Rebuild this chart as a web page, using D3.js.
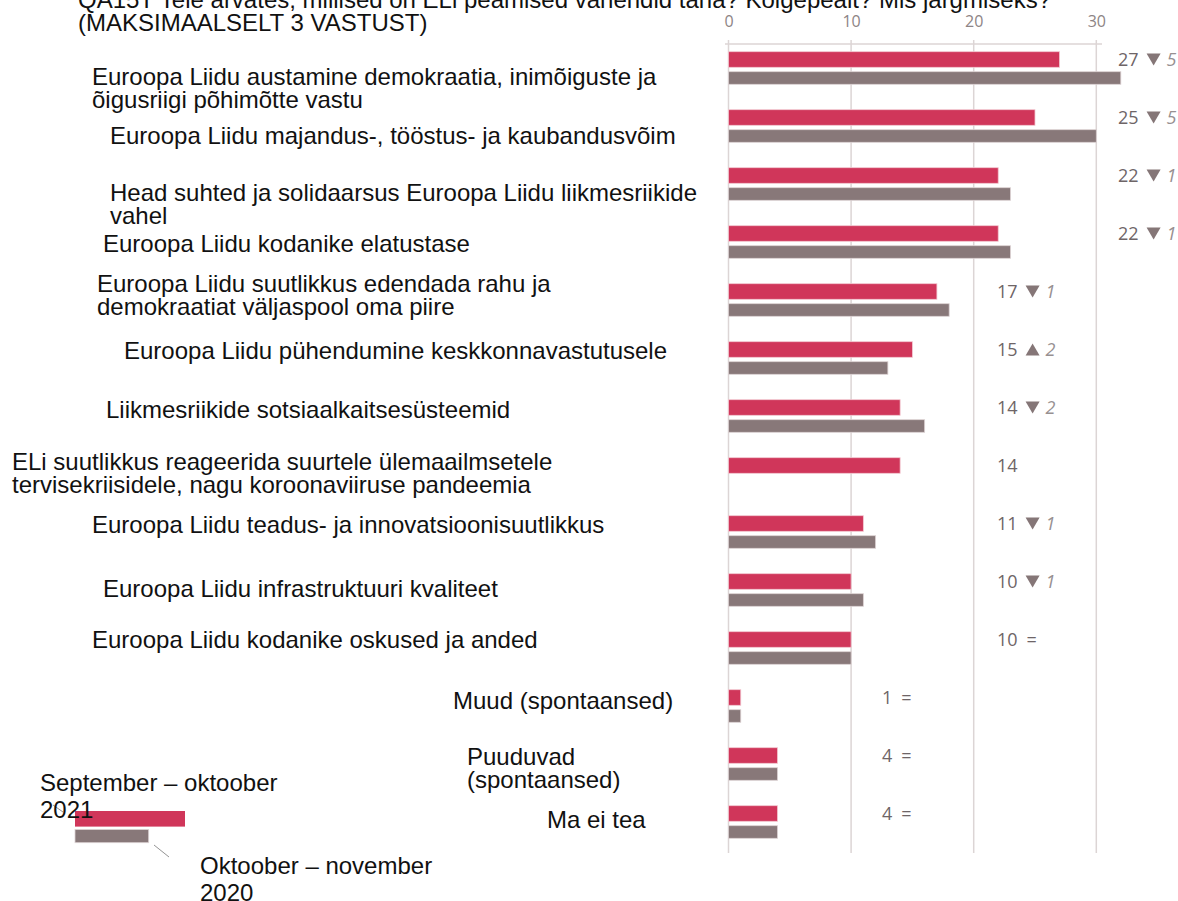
<!DOCTYPE html>
<html><head><meta charset="utf-8">
<script src="https://cdn.jsdelivr.net/npm/d3@7"></script>
<style>body{margin:0;background:#fff;} svg{display:block;}</style>
</head><body><svg id="c" width="1178" height="901"></svg>
<script>
// ---------- data ----------
const titleLines = ["QA15T Teie arvates, millised on ELi peamised vahendid täna? Kõigepealt? Mis järgmiseks?", "(MAKSIMAALSELT 3 VASTUST)"];
const categories = [
  ["Euroopa Liidu austamine demokraatia, inimõiguste ja", "õigusriigi põhimõtte vastu"],
  ["Euroopa Liidu majandus-, tööstus- ja kaubandusvõim"],
  ["Head suhted ja solidaarsus Euroopa Liidu liikmesriikide", "vahel"],
  ["Euroopa Liidu kodanike elatustase"],
  ["Euroopa Liidu suutlikkus edendada rahu ja", "demokraatiat väljaspool oma piire"],
  ["Euroopa Liidu pühendumine keskkonnavastutusele"],
  ["Liikmesriikide sotsiaalkaitsesüsteemid"],
  ["ELi suutlikkus reageerida suurtele ülemaailmsetele", "tervisekriisidele, nagu koroonaviiruse pandeemia"],
  ["Euroopa Liidu teadus- ja innovatsioonisuutlikkus"],
  ["Euroopa Liidu infrastruktuuri kvaliteet"],
  ["Euroopa Liidu kodanike oskused ja anded"],
  ["Muud (spontaansed)"],
  ["Puuduvad", "(spontaansed)"],
  ["Ma ei tea"]
];
const values2021 = [27, 25, 22, 22, 17, 15, 14, 14, 11, 10, 10, 1, 4, 4];
const values2020 = [32, 30, 23, 23, 18, 13, 16, null, 12, 11, 10, 1, 4, 4];
const tickValues = [0, 10, 20, 30];
const series2021 = ["September – oktoober", "2021"];
const series2020 = ["Oktoober – november", "2020"];

// ---------- layout ----------
const RED = "#d0365a", GREY = "#887879";
const labelFont = "'Liberation Sans', Arial, sans-serif";
const numFont = "'Open Sans', 'Noto Sans', sans-serif";
// label box positions (x, vertical shift from row centre) as placed in the original
const labelLayout = [[92,17],[110,18],[110,17],[103,10],[97,-8],[124,1],[106,2],[12,-4],[92,1],[103,7],[92,0],[453,3],[467,1],[547,6]];
const valueColX = i => i < 4 ? 1118 : (i < 11 ? 997 : 882);

const svg = d3.select("#c");
const x = d3.scaleLinear().domain([0, 30]).range([728.5, 1096.3]);
const y = d3.scaleBand().domain(d3.range(categories.length)).range([44, 44 + 58 * categories.length]);
const redY = i => y(i) + 7.7, grayY = i => y(i) + 27.7;
const rowC = i => redY(i) + 7.8;

// title
svg.append("g").selectAll("text").data(titleLines).join("text")
  .attr("x", 78).attr("y", (d, i) => 8 + i * 23)
  .attr("font-family", labelFont).attr("font-size", 24).attr("fill", "#111")
  .text(d => d);

// gridlines
svg.append("g").selectAll("line").data(tickValues).join("line")
  .attr("x1", d => x(d)).attr("x2", d => x(d)).attr("y1", 40).attr("y2", 853)
  .attr("stroke", "#dcd5d5").attr("stroke-width", 1.5);
svg.append("line").attr("x1", 725).attr("x2", 1102).attr("y1", 44).attr("y2", 44)
  .attr("stroke", "#dcd5d5").attr("stroke-width", 1.5);

// axis tick labels
const ax = svg.append("g").attr("transform", "translate(0,44)")
  .call(d3.axisTop(x).tickValues(tickValues).tickSize(0).tickPadding(17));
ax.select(".domain").remove();
ax.selectAll("text").attr("font-family", numFont).attr("font-size", 16).attr("fill", "#8d8485");

// bars
svg.append("g").selectAll("rect").data(values2021).join("rect")
  .attr("x", x(0)).attr("y", (d, i) => redY(i))
  .attr("width", d => x(d) - x(0)).attr("height", 15.6)
  .attr("fill", RED).attr("stroke", "#f3c9d2").attr("stroke-width", 0.8);
svg.append("g").selectAll("rect").data(values2020.map((v, i) => ({v, i})).filter(d => d.v != null)).join("rect")
  .attr("x", x(0)).attr("y", d => grayY(d.i))
  .attr("width", d => x(d.v) - x(0)).attr("height", 12.6)
  .attr("fill", GREY).attr("stroke", "#ddd3d4").attr("stroke-width", 0.8);

// category labels
categories.forEach((lines, i) => {
  const [lx, dy] = labelLayout[i];
  const t = svg.append("text").attr("font-family", labelFont).attr("font-size", 24).attr("fill", "#111");
  lines.forEach((ln, k) => {
    t.append("tspan").attr("x", lx).attr("y", rowC(i) + dy + 8.6 + k * 23).text(ln);
  });
});

// value labels with change
values2021.forEach((v, i) => {
  const g = svg.append("g").attr("transform", `translate(${valueColX(i)},${rowC(i)})`);
  const t = g.append("text").attr("y", 6.5).attr("font-family", numFont).attr("font-size", 18)
    .attr("fill", "#6e6567").text(v);
  const w = t.node().getComputedTextLength();
  const prev = values2020[i];
  if (prev == null) return;
  const diff = v - prev;
  if (diff === 0) {
    g.append("text").attr("x", w + 9).attr("y", 6.5).attr("font-family", numFont).attr("font-size", 18)
      .attr("fill", "#6e6567").text("=");
    return;
  }
  const tx = w + 8;
  const path = diff < 0 ? `M${tx},-6 L${tx + 14},-6 L${tx + 7},6 Z` : `M${tx},6 L${tx + 14},6 L${tx + 7},-6 Z`;
  g.append("path").attr("d", path).attr("fill", "#857677");
  g.append("text").attr("x", tx + 20).attr("y", 6.5).attr("font-family", numFont).attr("font-size", 18)
    .attr("font-style", "italic").attr("fill", "#979091").text(Math.abs(diff));
});

// legend
const lg = svg.append("g");
lg.append("line").attr("x1", 53).attr("y1", 805).attr("x2", 63).attr("y2", 812).attr("stroke", "#777").attr("stroke-width", 0.8);
lg.append("line").attr("x1", 154).attr("y1", 845).attr("x2", 169).attr("y2", 857).attr("stroke", "#777").attr("stroke-width", 0.8);
lg.append("rect").attr("x", 75).attr("y", 811).attr("width", 110).attr("height", 15.6).attr("fill", RED);
lg.append("rect").attr("x", 75).attr("y", 829.5).attr("width", 73.7).attr("height", 13.2).attr("fill", GREY).attr("stroke", "#ddd3d4").attr("stroke-width", 0.8);
const l1 = lg.append("text").attr("font-family", labelFont).attr("font-size", 24).attr("fill", "#111");
series2021.forEach((s, k) => l1.append("tspan").attr("x", 40).attr("y", 791 + k * 27).text(s));
const l2 = lg.append("text").attr("font-family", labelFont).attr("font-size", 24).attr("fill", "#111");
series2020.forEach((s, k) => l2.append("tspan").attr("x", 200).attr("y", 874 + k * 27).text(s));
</script>
</body></html>
